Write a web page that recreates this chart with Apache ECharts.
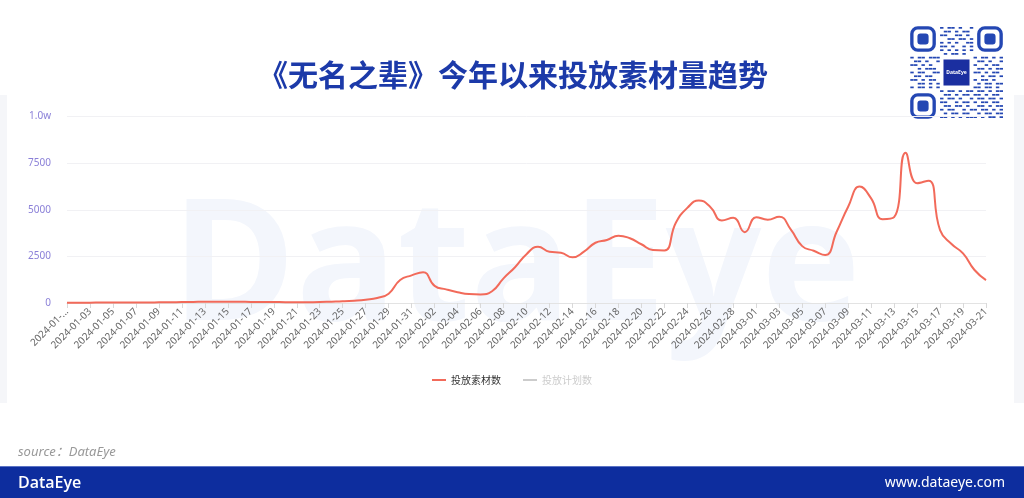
<!DOCTYPE html>
<html>
<head>
<meta charset="utf-8">
<script src="https://cdn.jsdelivr.net/npm/echarts@6/dist/echarts.min.js"></script>
<style>
  html, body { margin: 0; padding: 0; background: #ffffff; }
  #main { width: 1024px; height: 498px; }
</style>
</head>
<body>
<div id="main"></div>
<script>
// ---- content ----
const titleText = '《无名之辈》今年以来投放素材量趋势';
const seriesNames = ['投放素材数', '投放计划数'];
const sourceText = 'source：DataEye';
const brandText = 'DataEye';
const siteText = 'www.dataeye.com';

// daily categories 2024-01-01 .. 2024-03-21
const dates = [];
(function () {
  const d = new Date(Date.UTC(2024, 0, 1));
  const end = new Date(Date.UTC(2024, 2, 21));
  while (d <= end) {
    dates.push(d.toISOString().slice(0, 10));
    d.setUTCDate(d.getUTCDate() + 1);
  }
})();

// 投放素材数 per day
const materialCounts = [
  20, 20, 20, 25, 25, 25, 30, 30, 35, 40,          // 01-01 .. 01-10
  50, 60, 70, 70, 70, 65, 60, 55, 50, 45,          // 01-11 .. 01-20
  40, 45, 50, 70, 90, 125, 180, 270, 500, 1230,    // 01-21 .. 01-30
  1480,                                            // 01-31
  1650, 920, 730, 580, 480, 460, 630, 1320, 1920, 2620,   // 02-01 .. 02-10
  3020, 2750, 2700, 2450, 2750, 3230, 3380, 3610, 3470, 3150, // 02-11 .. 02-20
  2840, 2820, 4300, 5100, 5500, 5150, 4430, 4570, 3800,   // 02-21 .. 02-29
  4600, 4470, 4630, 3950, 3050, 2800, 2570, 3820, 5160, 6240, // 03-01 .. 03-10
  5610, 4490, 4600, 8060, 6420, 6560, 3910, 3160, 2660, 1770, // 03-11 .. 03-20
  1230                                             // 03-21
];
// 投放计划数 is switched off in the legend
const planCounts = [];

// value axis
const yMin = 0, yMax = 10000, yInterval = 2500;

// QR-style badge modules (1 = dark)
const qrRows = [
  '0000000010110100100000000',
  '0000000001101011000000000',
  '0000000011001101000000000',
  '0000000000110110100000000',
  '0000000010101001100000000',
  '0000000011010010100000000',
  '0000000010101010100000000',
  '0000000001011010000000000',
  '1011011100000000010110101',
  '0110100100000000001101001',
  '1101010000000000010010110',
  '0010111000000000001101011',
  '1011001100000000011010110',
  '0110110000000000000101101',
  '1101011000000000010110100',
  '0011010100000000001011011',
  '1011010100000000011011010',
  '0000000010110101101101011',
  '0000000001101011011010110',
  '0000000010110100101101101',
  '0000000011001011010110110',
  '0000000001101101001101011',
  '0000000010110010110110101',
  '0000000001011011001011011',
  '0000000011010101110101101'
];

// ---- drawing ----
const chart = echarts.init(document.getElementById('main'), null, { renderer: 'canvas' });

const qrBlue = '#2447b3';
const qrX = 910, qrY = 26, qrM = 3.72;
const qrChildren = [];
qrChildren.push({ type: 'rect', shape: { x: qrX - 6, y: qrY - 5, width: 25 * qrM + 12, height: 25 * qrM + 10 }, style: { fill: '#ffffff' } });
qrRows.forEach(function (row, r) {
  for (let c = 0; c < row.length; c++) {
    if (row[c] !== '1') continue;
    qrChildren.push({
      type: 'rect',
      shape: { x: qrX + c * qrM + 0.3, y: qrY + r * qrM + 1.0, width: qrM - 0.3, height: qrM - 2.0 },
      style: { fill: qrBlue }
    });
  }
});
[[0, 0], [18, 0], [0, 18]].forEach(function (p) {
  const fx = qrX + p[0] * qrM, fy = qrY + p[1] * qrM;
  qrChildren.push({ type: 'rect', shape: { x: fx + qrM / 2, y: fy + qrM / 2, width: 6 * qrM, height: 6 * qrM, r: 1.6 * qrM }, style: { fill: 'none', stroke: qrBlue, lineWidth: qrM * 0.9 } });
  qrChildren.push({ type: 'rect', shape: { x: fx + 2 * qrM, y: fy + 2 * qrM, width: 3 * qrM, height: 3 * qrM, r: qrM * 0.8 }, style: { fill: qrBlue } });
});
qrChildren.push({ type: 'rect', shape: { x: qrX + 9 * qrM, y: qrY + 9 * qrM, width: 7 * qrM, height: 7 * qrM }, style: { fill: '#1b2fa0' } });
qrChildren.push({ type: 'text', style: { x: qrX + 12.5 * qrM, y: qrY + 12.5 * qrM, text: brandText, fill: '#ffffff', font: 'bold 5px "Noto Sans"', align: 'center', verticalAlign: 'middle' } });

const option = {
  backgroundColor: '#ffffff',
  animation: false,
  textStyle: { fontFamily: '"Noto Sans", "Noto Sans CJK SC", sans-serif' },
  graphic: [
    // side edges of the chart panel
    { type: 'rect', z: -20, shape: { x: 0, y: 95, width: 7, height: 308 }, style: { fill: '#f5f6f9' } },
    { type: 'rect', z: -20, shape: { x: 1014, y: 95, width: 10, height: 308 }, style: { fill: '#f5f6f9' } },
    // faint brand watermark behind the plot
    { type: 'text', z: -10, style: { x: 516, y: 272, text: brandText, fill: '#f3f6fc', font: 'bold 168px "Open Sans", sans-serif', align: 'center', verticalAlign: 'middle' } },
    // heading
    { type: 'text', z: 10, style: { x: 513, y: 75, text: titleText, fill: '#1c3aa9', font: 'bold 30px "Noto Sans CJK SC"', align: 'center', verticalAlign: 'middle' } },
    // badge
    { type: 'group', z: 10, children: qrChildren },
    // source line
    { type: 'text', z: 10, style: { x: 18, y: 452, text: sourceText, fill: '#999999', font: 'italic 13px "Noto Sans", "Noto Sans CJK SC"', verticalAlign: 'middle' } },
    // footer band
    { type: 'rect', z: 10, shape: { x: 0, y: 467, width: 1024, height: 31 }, style: { fill: '#0d2d9e' } },
    { type: 'rect', z: 10, shape: { x: 0, y: 466, width: 1024, height: 1 }, style: { fill: '#5b73c4' } },
    { type: 'text', z: 11, style: { x: 18, y: 483, text: brandText, fill: '#ffffff', font: '600 16px "Open Sans"', verticalAlign: 'middle' } },
    { type: 'text', z: 11, style: { x: 1005, y: 483, text: siteText, fill: '#ffffff', font: '14px "Noto Sans"', align: 'right', verticalAlign: 'middle' } }
  ],
  grid: { left: 67, right: 38, top: 116.5, bottom: 195, containLabel: false },
  legend: {
    top: 370,
    left: 'center',
    itemWidth: 14,
    itemHeight: 2,
    itemGap: 22,
    icon: 'rect',
    textStyle: { fontSize: 10, color: '#333333', fontFamily: '"Noto Sans CJK SC"' },
    inactiveColor: '#cccccc',
    data: seriesNames,
    selected: { [seriesNames[1]]: false }
  },
  xAxis: {
    type: 'category',
    data: dates,
    boundaryGap: false,
    axisLine: { lineStyle: { color: '#e3e3e3' } },
    axisTick: { interval: 1, length: 5, lineStyle: { color: '#d9d9d9' } },
    axisLabel: {
      interval: 1,
      rotate: 45,
      fontSize: 10,
      color: '#666666',
      margin: 7,
      formatter: function (v, i) { return i === 0 ? v.slice(0, 8) + '...' : v; }
    },
    splitLine: { show: false }
  },
  yAxis: {
    type: 'value',
    min: yMin,
    max: yMax,
    interval: yInterval,
    axisLine: { show: false },
    axisTick: { show: false },
    axisLabel: {
      fontSize: 10,
      color: '#8b80d8',
      margin: 16,
      formatter: function (v) { return v >= 10000 ? (v / 10000).toFixed(1) + 'w' : String(v); }
    },
    splitLine: { lineStyle: { color: '#f1f1f4' } }
  },
  series: [
    {
      name: seriesNames[0],
      type: 'line',
      data: materialCounts,
      smooth: true,
      symbol: 'none',
      z: 5,
      lineStyle: { color: '#f26a5a', width: 2 },
      itemStyle: { color: '#f26a5a' }
    },
    {
      name: seriesNames[1],
      type: 'line',
      data: planCounts,
      smooth: true,
      symbol: 'none',
      lineStyle: { color: '#c8c8c8', width: 2 },
      itemStyle: { color: '#c8c8c8' }
    }
  ]
};

chart.setOption(option);
</script>
</body>
</html>
